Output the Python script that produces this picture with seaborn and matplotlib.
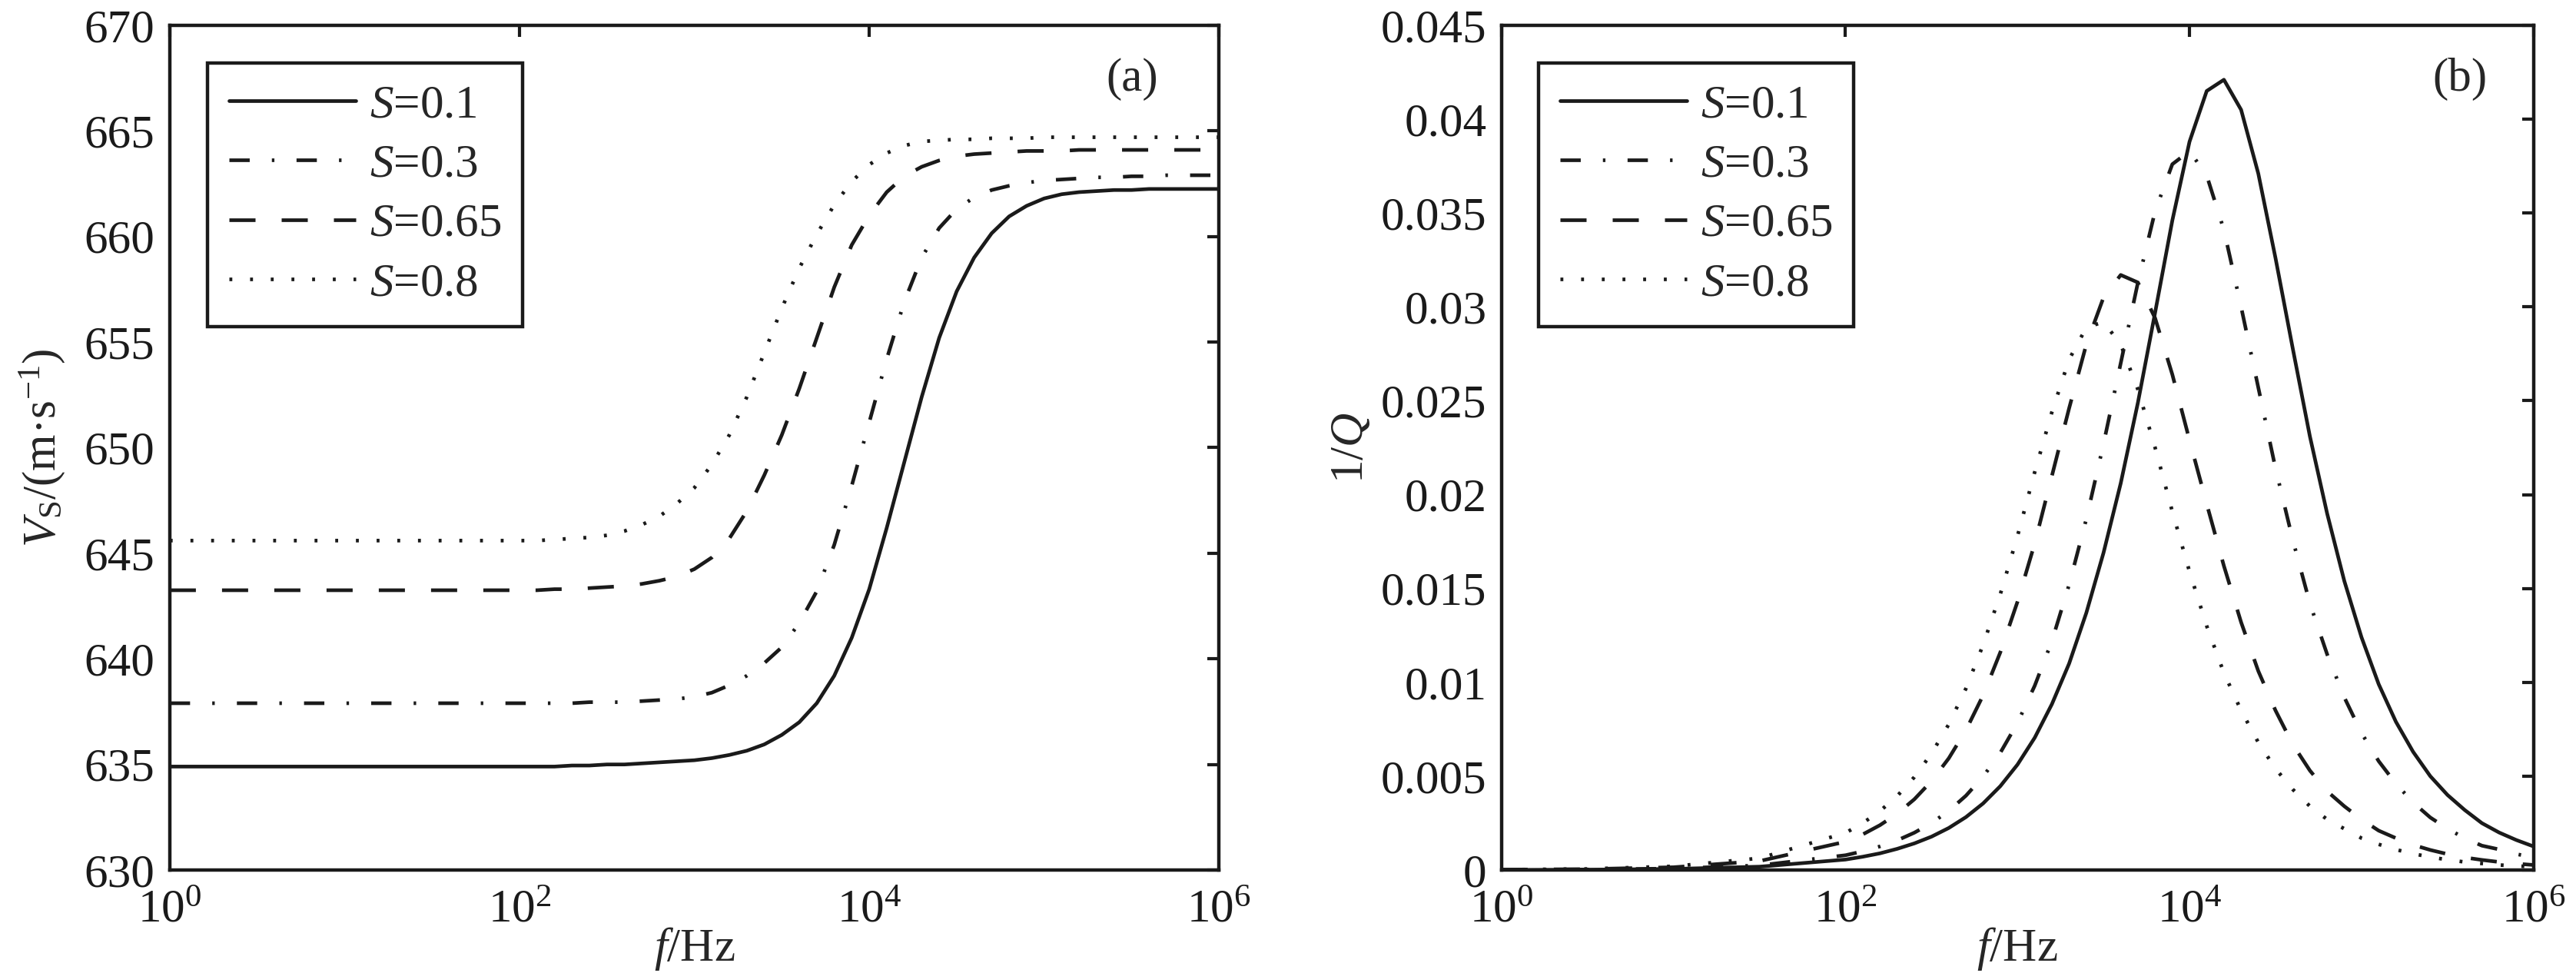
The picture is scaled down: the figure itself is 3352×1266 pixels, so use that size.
import matplotlib
matplotlib.use("Agg")
import matplotlib.pyplot as plt
from matplotlib.ticker import FixedLocator, NullLocator
import seaborn as sns

# frequency grid, as powers of ten (Hz)
freq_exp = [0, 0.5, 1, 1.5,
            2.0, 2.1, 2.2, 2.3, 2.4, 2.5, 2.6, 2.7, 2.8, 2.9,
            3.0, 3.1, 3.2, 3.3, 3.4, 3.5, 3.6, 3.7, 3.8, 3.9,
            4.0, 4.1, 4.2, 4.3, 4.4, 4.5, 4.6, 4.7, 4.8, 4.9,
            5.0, 5.1, 5.2, 5.3, 5.4, 5.5, 5.6, 5.7, 5.8, 5.9,
            6.0]

s_labels = [r"$S$=0.1", r"$S$=0.3", r"$S$=0.65", r"$S$=0.8"]

# (a) shear velocity, m/s
vs_s01 = [634.9, 634.9, 634.9, 634.9,
          634.9, 634.9, 634.9, 634.95, 634.95, 635.0, 635.0, 635.05, 635.1, 635.15,
          635.2, 635.3, 635.45, 635.65, 635.95, 636.4, 637.0, 637.9, 639.2, 641.0,
          643.3, 646.2, 649.3, 652.4, 655.2, 657.4, 659.0, 660.15, 660.95, 661.45,
          661.8, 662.0, 662.1, 662.15, 662.2, 662.2, 662.25, 662.25, 662.25, 662.25,
          662.25]
vs_s03 = [637.9, 637.9, 637.9, 637.9,
          637.9, 637.9, 637.9, 637.9, 637.95, 637.95, 637.95, 638.0, 638.05, 638.1,
          638.2, 638.4, 638.75, 639.2, 639.8, 640.55, 641.7, 643.2, 645.4, 648.2,
          651.2, 654.2, 656.9, 659.0, 660.4, 661.3, 661.85, 662.2, 662.4, 662.55,
          662.65, 662.7, 662.75, 662.8, 662.8, 662.85, 662.85, 662.9, 662.9, 662.9,
          662.9]
vs_s065 = [643.25, 643.25, 643.25, 643.25,
           643.25, 643.25, 643.3, 643.3, 643.35, 643.4, 643.45, 643.55, 643.7, 643.9,
           644.25, 644.8, 645.7, 647.0, 648.7, 650.6, 652.8, 655.2, 657.6, 659.6,
           661.0, 662.1, 662.85, 663.3, 663.6, 663.8, 663.9, 663.95, 664.0, 664.05,
           664.05, 664.05, 664.1, 664.1, 664.1, 664.1, 664.1, 664.1, 664.1, 664.1,
           664.1]
vs_s08 = [645.6, 645.6, 645.6, 645.6,
          645.6, 645.6, 645.65, 645.7, 645.75, 645.85, 646.05, 646.35, 646.75, 647.35,
          648.1, 649.2, 650.6, 652.4, 654.5, 656.6, 658.5, 660.1, 661.5, 662.6,
          663.4, 663.95, 664.3, 664.5, 664.55, 664.6, 664.6, 664.65, 664.65, 664.65,
          664.7, 664.7, 664.7, 664.7, 664.7, 664.7, 664.7, 664.7, 664.7, 664.7,
          664.7]

# (b) attenuation 1/Q
q_s01 = [0.0, 0.00002, 0.00006, 0.00018,
         0.00056, 0.00071, 0.00089, 0.00113, 0.00142, 0.00178, 0.00224, 0.00282, 0.00355, 0.00447,
         0.00562, 0.00705, 0.00884, 0.0110, 0.0137, 0.0169, 0.0206, 0.0249, 0.0297, 0.0346,
         0.0388, 0.0415, 0.0421, 0.0405, 0.0371, 0.0326, 0.0278, 0.0231, 0.0190, 0.0154,
         0.0124, 0.0099, 0.0079, 0.0063, 0.0050, 0.0040, 0.0032, 0.0025, 0.0020, 0.0016,
         0.00126]
q_s03 = [0.00001, 0.00003, 0.00008, 0.00025,
         0.00079, 0.0010, 0.00126, 0.00158, 0.00199, 0.0025, 0.00315, 0.00396, 0.00498, 0.00625,
         0.00784, 0.00982, 0.0122, 0.0152, 0.0187, 0.0227, 0.0270, 0.0313, 0.0351, 0.0376,
         0.0383, 0.0370, 0.0341, 0.0300, 0.0257, 0.0214, 0.0176, 0.0142, 0.0115, 0.0092,
         0.0073, 0.0058, 0.0046, 0.0036, 0.0028, 0.0022, 0.0017, 0.0013, 0.0011, 0.00085,
         0.00068]
q_s065 = [0.00002, 0.00005, 0.00015, 0.00048,
          0.00151, 0.0019, 0.00239, 0.0030, 0.00377, 0.00474, 0.00595, 0.00745, 0.00931, 0.0116,
          0.0143, 0.0174, 0.0210, 0.0246, 0.0280, 0.0305, 0.0317, 0.0313, 0.0294, 0.0264,
          0.0229, 0.0195, 0.0162, 0.0132, 0.0106, 0.0085, 0.0067, 0.0053, 0.0042, 0.0034,
          0.0027, 0.0021, 0.0017, 0.00134, 0.00107, 0.00085, 0.00067, 0.00054, 0.00043, 0.00034,
          0.00027]
q_s08 = [0.00002, 0.00006, 0.0002, 0.00063,
         0.00198, 0.0025, 0.00314, 0.00394, 0.00495, 0.00621, 0.00776, 0.00967, 0.0120, 0.0147,
         0.0178, 0.0212, 0.0244, 0.0272, 0.0289, 0.0292, 0.0280, 0.0256, 0.0225, 0.0191,
         0.0159, 0.0130, 0.0105, 0.0085, 0.0068, 0.0054, 0.0043, 0.0034, 0.0027, 0.0022,
         0.0017, 0.00137, 0.00109, 0.00087, 0.00069, 0.00055, 0.00043, 0.00035, 0.00027, 0.00022,
         0.00017]

vs_ticks = [630, 635, 640, 645, 650, 655, 660, 665, 670]
q_ticks = [0, 0.005, 0.01, 0.015, 0.02, 0.025, 0.03, 0.035, 0.04, 0.045]
q_tick_labels = ["0", "0.005", "0.01", "0.015", "0.02", "0.025", "0.03", "0.035", "0.04", "0.045"]
f_ticks = [1, 1e2, 1e4, 1e6]

# solid, dash-dot, dashed, dotted (MATLAB-like)
line_styles = ["-", (0, (5.6, 6.1, 0.7, 6.1)), (0, (7.2, 7.2)), (0, (0.8, 4.9))]

sns.set_theme(style="white")
plt.rcParams["font.family"] = ["Liberation Serif", "DejaVu Serif"]
plt.rcParams["mathtext.fontset"] = "custom"
plt.rcParams["mathtext.rm"] = "Liberation Serif"
plt.rcParams["mathtext.it"] = "Liberation Serif:italic"
plt.rcParams["mathtext.bf"] = "Liberation Serif:bold"

FS = 22
LW = 1.7

freq = [10 ** e for e in freq_exp]

fig = plt.figure(figsize=(16.76, 6.33), dpi=200)
ax1 = fig.add_axes([0.0659, 0.1058, 0.4073, 0.8682])
ax2 = fig.add_axes([0.5829, 0.1058, 0.4006, 0.8682])

for vals, lab, ls in zip([vs_s01, vs_s03, vs_s065, vs_s08], s_labels, line_styles):
    sns.lineplot(x=freq, y=vals, ax=ax1, color="k", linewidth=LW, linestyle=ls, label=lab)
for vals, lab, ls in zip([q_s01, q_s03, q_s065, q_s08], s_labels, line_styles):
    sns.lineplot(x=freq, y=vals, ax=ax2, color="k", linewidth=LW, linestyle=ls, label=lab)

for ax in (ax1, ax2):
    ax.set_xscale("log")
    ax.set_xlim(1, 1e6)
    ax.xaxis.set_major_locator(FixedLocator(f_ticks))
    ax.xaxis.set_minor_locator(NullLocator())
    ax.yaxis.set_minor_locator(NullLocator())
    ax.tick_params(which="both", direction="in", top=True, right=True, length=5.5,
                   width=1.5, labelsize=FS, pad=7, colors="k")
    ax.tick_params(axis="x", pad=9)
    for sp in ax.spines.values():
        sp.set_linewidth(1.6)
        sp.set_color("k")
    ax.set_xlabel(r"$f$/Hz", fontsize=FS, labelpad=-3)
    leg = ax.legend(loc="upper left", bbox_to_anchor=(0.036, 0.955), borderaxespad=0,
                    fontsize=FS, frameon=True, fancybox=False, edgecolor="k",
                    framealpha=1, handlelength=2.7, handletextpad=0.3,
                    labelspacing=0.35, borderpad=0.45)
    leg.get_frame().set_linewidth(1.6)

ax1.set_ylim(630, 670)
ax1.set_yticks(vs_ticks)
ax1.set_ylabel(r"$V_{\mathrm{S}}$/(m·s$^{-1}$)", fontsize=FS, labelpad=8)
ax1.text(0.917, 0.936, "(a)", transform=ax1.transAxes, ha="center", va="center", fontsize=FS)

ax2.set_ylim(0, 0.045)
ax2.set_yticks(q_ticks)
ax2.set_yticklabels(q_tick_labels)
ax2.set_ylabel(r"1/$Q$", fontsize=FS, labelpad=4)
ax2.text(0.929, 0.936, "(b)", transform=ax2.transAxes, ha="center", va="center", fontsize=FS)

fig.savefig("out.png", dpi=200)
